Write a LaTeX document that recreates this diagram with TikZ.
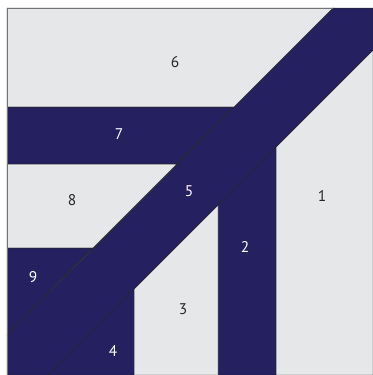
\documentclass[tikz,border=0pt]{standalone}
\usepackage{fontspec}
\setmainfont{PT Sans}
\definecolor{quiltlight}{HTML}{E6E7E8}
\definecolor{quiltnavy}{HTML}{25205F}
\begin{document}
\begin{tikzpicture}[
  x=1bp, y=-1bp,
  piece/.style={draw=black!85, line width=0.5pt, line join=miter},
  light/.style={piece, fill=quiltlight},
  dark/.style={piece, fill=quiltnavy},
  every node/.style={font=\fontsize{15.5}{18}\selectfont},
  numdark/.style={text=white},
  numlight/.style={text=black!85}
]
\useasboundingbox (0,0) rectangle (373,375);

% pieces of the block
\fill[quiltlight] (7,8) rectangle (373,375);
\draw[light] (276,147) -- (373,50) -- (373,375) -- (276,375) -- cycle;
\draw[dark]  (218,205) -- (276,147) -- (276,375) -- (218,375) -- cycle;
\draw[light] (134,289) -- (218,205) -- (218,375) -- (134,375) -- cycle;
\draw[dark]  (48,375) -- (134,289) -- (134,375) -- cycle;
\draw[dark]  (333,8) -- (373,8) -- (373,50) -- (48,375) -- (7,375) -- (7,335) -- cycle;
\draw[light] (7,8) -- (333,8) -- (234,107) -- (7,107) -- cycle;
\draw[dark]  (7,107) -- (234,107) -- (177,164) -- (7,164) -- cycle;
\draw[light] (7,164) -- (177,164) -- (93,248) -- (7,248) -- cycle;
\draw[dark]  (7,248) -- (93,248) -- (7,335) -- cycle;
\draw[black!55, line width=0.8pt] (7,375) -- (7,8) -- (333,8);

% piece numbers
\node[numlight] (n1) at (322,196) {1};
\node[numdark]  (n2) at (245,247) {2};
\node[numlight] (n3) at (183,309) {3};
\node[numdark]  (n4) at (113,351) {4};
\node[numdark]  (n5) at (189,191) {5};
\node[numlight] (n6) at (175,62) {6};
\node[numdark]  (n7) at (119,134) {7};
\node[numlight] (n8) at (72,200) {8};
\node[numdark]  (n9) at (33,277) {9};

\end{tikzpicture}
\end{document}
